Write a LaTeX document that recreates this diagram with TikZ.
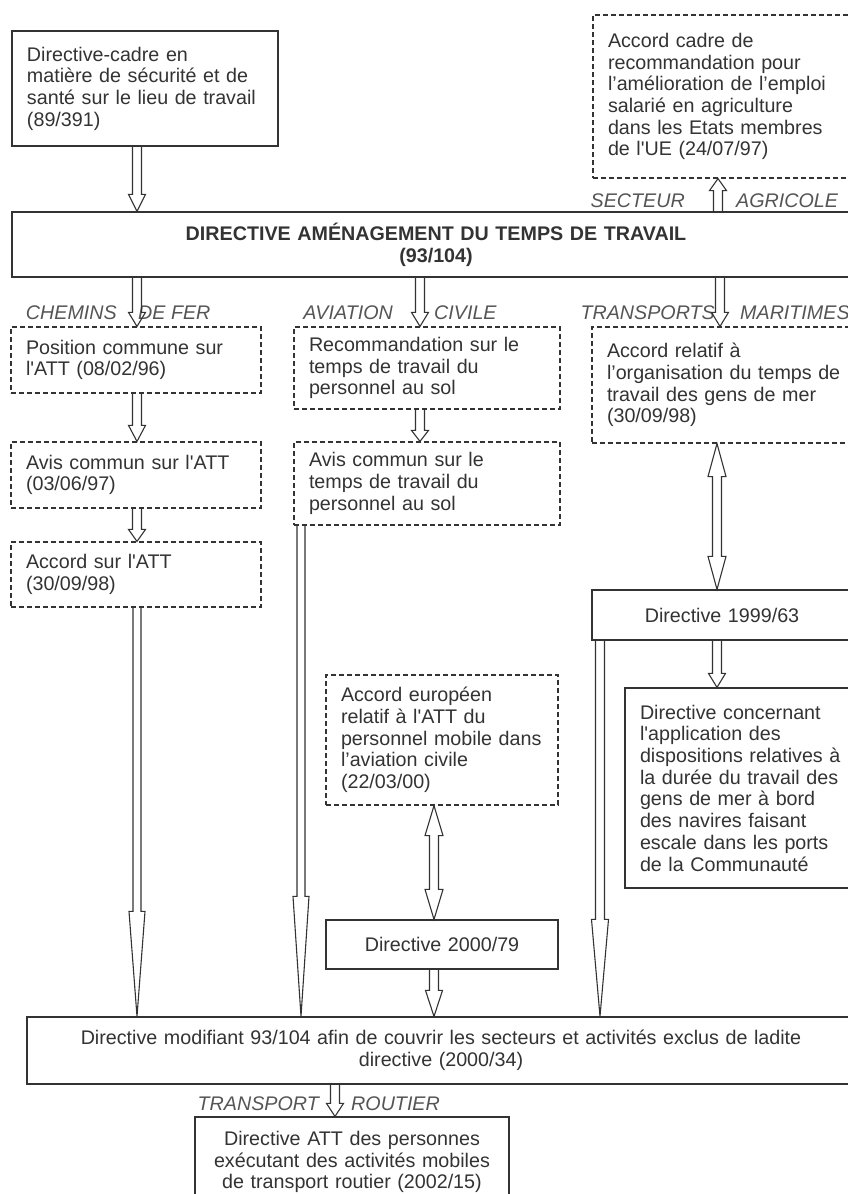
\documentclass[tikz,border=0pt]{standalone}
\usepackage{fontspec}
\setmainfont{Liberation Sans}
\usetikzlibrary{calc}
\definecolor{ink}{HTML}{333333}
\definecolor{labc}{HTML}{555555}
\tikzset{
  txt/.style={font=\fontsize{19.7}{21.7}\selectfont, text=ink},
  sbox/.style={txt, draw=ink, line width=1.2pt, inner xsep=15pt, inner ysep=0pt, align=left},
  dbox/.style={sbox, dash pattern=on 5pt off 3pt},
  cbox/.style={sbox, align=center},
  seclab/.style={font=\fontsize{19.7}{21.7}\selectfont\itshape, text=labc, inner sep=0pt},
  arr/.style={draw=ink, line width=1.1pt, line join=miter},
}
% down arrow: x, from, to, head length, head half width, shaft half width
\newcommand\dnarr[6]{\draw[arr] let \p1=(#2), \p2=(#3) in
  (#1pt-#6pt,\y1) -- (#1pt-#6pt,\y2+#4pt) -- (#1pt-#5pt,\y2+#4pt) -- (#1pt,\y2)
  -- (#1pt+#5pt,\y2+#4pt) -- (#1pt+#6pt,\y2+#4pt) -- (#1pt+#6pt,\y1);}
% up arrow
\newcommand\uparr[6]{\draw[arr] let \p1=(#2), \p2=(#3) in
  (#1pt-#6pt,\y1) -- (#1pt-#6pt,\y2-#4pt) -- (#1pt-#5pt,\y2-#4pt) -- (#1pt,\y2)
  -- (#1pt+#5pt,\y2-#4pt) -- (#1pt+#6pt,\y2-#4pt) -- (#1pt+#6pt,\y1);}
% double arrow: x, top node, bottom node, head length, head half width, shaft half width
\newcommand\dblarr[6]{\draw[arr] let \p1=(#2), \p2=(#3) in
  (#1pt,\y1) -- (#1pt+#5pt,\y1-#4pt) -- (#1pt+#6pt,\y1-#4pt) -- (#1pt+#6pt,\y2+#4pt)
  -- (#1pt+#5pt,\y2+#4pt) -- (#1pt,\y2) -- (#1pt-#5pt,\y2+#4pt) -- (#1pt-#6pt,\y2+#4pt)
  -- (#1pt-#6pt,\y1-#4pt) -- (#1pt-#5pt,\y1-#4pt) -- cycle;}

\begin{document}
\begin{tikzpicture}[x=1pt,y=-1pt]
\path[use as bounding box, fill=white] (0,0) rectangle (848,1194);
\clip (0,0) rectangle (848,1194);

% boxes
\node[sbox, text width=236, minimum height=115] (b1) at (145,88.5)
  {Directive-cadre en\\matière de sécurité et de\\santé sur le lieu de travail\\(89/391)};
\node[dbox, text width=252, minimum height=163] (agri) at (734,96.5)
  {Accord cadre de\\recommandation pour\\l’amélioration de l’emploi\\salarié en agriculture\\dans les Etats membres\\de l\textquotesingle UE (24/07/97)};
\node[cbox, text width=818, minimum height=65] (main) at (436,244.5)
  {\textbf{DIRECTIVE AMÉNAGEMENT DU TEMPS DE TRAVAIL}\\\textbf{(93/104)}};

\node[dbox, text width=220, minimum height=66] (pc) at (136,360)
  {Position commune sur\\l\textquotesingle ATT (08/02/96)};
\node[dbox, text width=220, minimum height=66] (ac1) at (136,475)
  {Avis commun sur l\textquotesingle ATT\\(03/06/97)};
\node[dbox, text width=220, minimum height=65] (asa) at (136,574.5)
  {Accord sur l\textquotesingle ATT\\(30/09/98)};

\node[dbox, text width=236, minimum height=82] (rec) at (427,368)
  {Recommandation sur le\\temps de travail du\\personnel au sol};
\node[dbox, text width=236, minimum height=83] (ac2) at (427,483.5)
  {Avis commun sur le\\temps de travail du\\personnel au sol};

\node[dbox, text width=253, minimum height=116] (mar) at (733.5,385)
  {Accord relatif à\\l’organisation du temps de\\travail des gens de mer\\(30/09/98)};
\node[cbox, text width=230, minimum height=50] (d63) at (722,615)
  {Directive 1999/63};
\node[sbox, text width=220, minimum height=200] (dc) at (750,788)
  {Directive concernant\\l\textquotesingle application des\\dispositions relatives à\\la durée du travail des\\gens de mer à bord\\des navires faisant\\escale dans les ports\\de la Communauté};

\node[dbox, text width=202, minimum height=130] (ae) at (442,740)
  {Accord européen\\relatif à l\textquotesingle ATT du\\personnel mobile dans\\l’aviation civile\\(22/03/00)};
\node[cbox, text width=202, minimum height=49] (d79) at (442,944.5)
  {Directive 2000/79};

\node[cbox, text width=798, minimum height=67] (bot) at (441,1050.5)
  {Directive modifiant 93/104 afin de couvrir les secteurs et activités exclus de ladite\\directive (2000/34)};
\node[cbox, text width=284, minimum height=90] (rt) at (352,1162)
  {Directive ATT des personnes\\exécutant des activités mobiles\\de transport routier (2002/15)};

% sector labels
\node[seclab, anchor=base east] (l1) at (685,207) {SECTEUR};
\node[seclab, anchor=base west] (l2) at (736,207) {AGRICOLE};
\node[seclab, anchor=base east] (l3) at (117,319) {CHEMINS};
\node[seclab, anchor=base west] (l4) at (138,319) {DE FER};
\node[seclab, anchor=base east] (l5) at (393,319) {AVIATION};
\node[seclab, anchor=base west] (l6) at (434,319) {CIVILE};
\node[seclab, anchor=base east] (l7) at (715,319) {TRANSPORTS};
\node[seclab, anchor=base west] (l8) at (740,319) {MARITIMES};
\node[seclab, anchor=base east] (l9) at (319,1110) {TRANSPORT};
\node[seclab, anchor=base west] (l10) at (351,1110) {ROUTIER};

% arrows
\dnarr{137}{b1.south}{main.north}{17}{8.5}{4.5}
\uparr{718}{main.north}{agri.south}{12}{8.5}{4.5}
\dnarr{137}{main.south}{pc.north}{14}{8.5}{4.5}
\dnarr{420}{main.south}{rec.north}{14}{8.5}{4.5}
\dnarr{720}{main.south}{mar.north}{14}{8.5}{4.5}
\dnarr{137}{pc.south}{ac1.north}{16}{8.5}{4.5}
\dnarr{137}{ac1.south}{asa.north}{12}{8.5}{4.5}
\dnarr{420}{rec.south}{ac2.north}{11}{8.5}{4.5}
\dblarr{717}{mar.south}{d63.north}{33}{9}{4.5}
\dnarr{717}{d63.south}{dc.north}{14}{8.5}{4.5}
\dblarr{434}{ae.south}{d79.north}{30}{9}{4.5}
\dnarr{434}{d79.south}{bot.north}{26}{8.5}{4.5}
\dnarr{137}{asa.south}{bot.north}{105}{8}{4}
\dnarr{301}{ac2.south}{bot.north}{120}{8}{4}
\dnarr{600}{d63.south}{bot.north}{97}{8.5}{4.5}
\dnarr{335}{bot.south}{rt.north}{13}{8.5}{4.5}
\end{tikzpicture}
\end{document}
